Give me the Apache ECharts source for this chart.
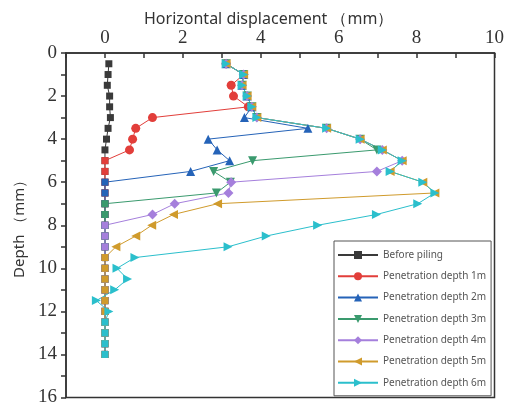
<!DOCTYPE html>
<html>
<head>
<meta charset="UTF-8">
<title>Horizontal displacement</title>
<script src="https://cdn.jsdelivr.net/npm/echarts@6/dist/echarts.min.js"></script>
<style>
html, body { margin: 0; padding: 0; background: #fff; }
#chart { width: 507px; height: 407px; }
</style>
</head>
<body>
<div id="chart"></div>
<script>
// depth of each measuring point (mm)
var depths = [0.5, 1, 1.5, 2, 2.5, 3, 3.5, 4, 4.5, 5, 5.5, 6, 6.5, 7, 7.5, 8, 8.5, 9, 9.5, 10, 10.5, 11, 11.5, 12, 12.5, 13, 13.5, 14];

var seriesNames = ['Before piling', 'Penetration depth 1m', 'Penetration depth 2m', 'Penetration depth 3m',
	'Penetration depth 4m', 'Penetration depth 5m', 'Penetration depth 6m'];

// horizontal displacement (mm) at each depth
var beforePiling = [0.10, 0.08, 0.06, 0.12, 0.12, 0.14, 0.08, 0.04, 0, 0, 0, 0, 0, 0, 0, 0, 0, 0, 0, 0, 0, 0, 0, 0, 0, 0, 0, 0];
var depth1m = [3.11, 3.56, 3.24, 3.30, 3.68, 1.22, 0.79, 0.71, 0.63, 0, 0, 0, 0, 0, 0, 0, 0, 0, 0, 0, 0, 0, 0, 0, 0, 0, 0, 0];
var depth2m = [3.11, 3.56, 3.52, 3.65, 3.77, 3.58, 5.21, 2.65, 2.88, 3.20, 2.20, 0, 0, 0, 0, 0, 0, 0, 0, 0, 0, 0, 0, 0, 0, 0, 0, 0];
var depth3m = [3.11, 3.56, 3.52, 3.65, 3.77, 3.90, 5.69, 6.55, 6.98, 3.79, 2.79, 3.22, 2.86, 0, 0, 0, 0, 0, 0, 0, 0, 0, 0, 0, 0, 0, 0, 0];
var depth4m = [3.11, 3.56, 3.52, 3.65, 3.77, 3.90, 5.69, 6.55, 7.12, 7.63, 6.98, 3.24, 3.17, 1.79, 1.22, 0, 0, 0, 0, 0, 0, 0, 0, 0, 0, 0, 0, 0];
var depth5m = [3.11, 3.56, 3.52, 3.65, 3.77, 3.90, 5.69, 6.55, 7.12, 7.63, 7.32, 8.16, 8.47, 2.89, 1.76, 1.20, 0.79, 0.28, 0, 0, 0, 0, 0, 0, 0, 0, 0, 0];
var depth6m = [3.11, 3.56, 3.52, 3.65, 3.77, 3.90, 5.69, 6.55, 7.12, 7.63, 7.32, 8.16, 8.47, 8.03, 6.97, 5.46, 4.14, 3.16, 0.77, 0.31, 0.58, 0.25, -0.22, 0.10, 0, 0, 0, 0];

var xTickLabels = [0, 2, 4, 6, 8, 10];
var yTickLabels = [0, 2, 4, 6, 8, 10, 12, 14, 16];

var colors = ['#3a3a3a', '#e23e3a', '#2563b8', '#3a9a6e', '#a57fdc', '#d09b2c', '#2bbfcc'];
var symbols = ['rect', 'circle', 'triangle', 'triangle', 'diamond', 'triangle', 'triangle'];
var rotates = [0, 0, 0, 180, 0, 90, -90];
var sizes = [7, 9, 9, 9, 10, 9, 9];

var allValues = [beforePiling, depth1m, depth2m, depth3m, depth4m, depth5m, depth6m];

function buildData(values) {
	var out = [];
	for (var i = 0; i < depths.length; i++) {
		var item = { value: [values[i], depths[i]] };
		// points sitting on zero are drawn as squares in the original
		if (values[i] === 0) { item.symbol = 'rect'; item.symbolSize = 7; item.symbolRotate = 0; }
		out.push(item);
	}
	return out;
}

var series = [];
for (var s = 0; s < allValues.length; s++) {
	series.push({
		name: seriesNames[s],
		type: 'line',
		data: buildData(allValues[s]),
		symbol: symbols[s],
		symbolSize: sizes[s],
		symbolRotate: rotates[s],
		showAllSymbol: true,
		color: colors[s],
		lineStyle: { width: 1, color: colors[s] },
		itemStyle: { color: colors[s] },
		emphasis: { disabled: true },
		animation: false
	});
}

var option = {
	backgroundColor: '#fff',
	title: {
		text: 'Horizontal displacement （mm）',
		left: 139,
		top: 6,
		textStyle: { fontFamily: 'Noto Sans', fontSize: 16, fontWeight: 'normal', color: '#333' }
	},
	grid: {
		left: 66, right: 7, top: 53, bottom: 5,
		show: true, borderColor: '#333', borderWidth: 1.5
	},
	legend: {
		orient: 'vertical',
		left: 334,
		top: 241,
		padding: [8, 5, 7, 3],
		itemWidth: 40,
		itemHeight: 10,
		itemGap: 9.3,
		borderColor: '#555',
		borderWidth: 1,
		backgroundColor: '#fff',
		textStyle: { fontFamily: 'Noto Sans', fontSize: 10, lineHeight: 12, color: '#555' },
		data: seriesNames
	},
	xAxis: {
		type: 'value',
		position: 'top',
		min: -1,
		max: 10,
		interval: 1,
		axisLine: { onZero: false, lineStyle: { color: '#333', width: 1.5 } },
		axisTick: { inside: true, length: 5, lineStyle: { color: '#333', width: 1.5 } },
		axisLabel: {
			fontFamily: 'Liberation Serif', fontSize: 19, color: '#333', margin: 5,
			formatter: function (v) { return xTickLabels.indexOf(v) >= 0 ? String(v) : ''; }
		},
		splitLine: { show: false }
	},
	yAxis: {
		type: 'value',
		inverse: true,
		min: 0,
		max: 16,
		interval: 1,
		name: 'Depth （mm）',
		nameLocation: 'middle',
		nameRotate: 90,
		nameGap: 38,
		nameTextStyle: { fontFamily: 'Noto Sans', fontSize: 15, color: '#333' },
		axisLine: { onZero: false, lineStyle: { color: '#333', width: 1.5 } },
		axisTick: { length: 5, lineStyle: { color: '#333', width: 1.5 } },
		axisLabel: {
			fontFamily: 'Liberation Serif', fontSize: 19, color: '#333', margin: 9,
			formatter: function (v) { return yTickLabels.indexOf(v) >= 0 ? String(v) : ''; }
		},
		splitLine: { show: false }
	},
	series: series
};

var myChart = echarts.init(document.getElementById('chart'));
myChart.setOption(option);
</script>
</body>
</html>
